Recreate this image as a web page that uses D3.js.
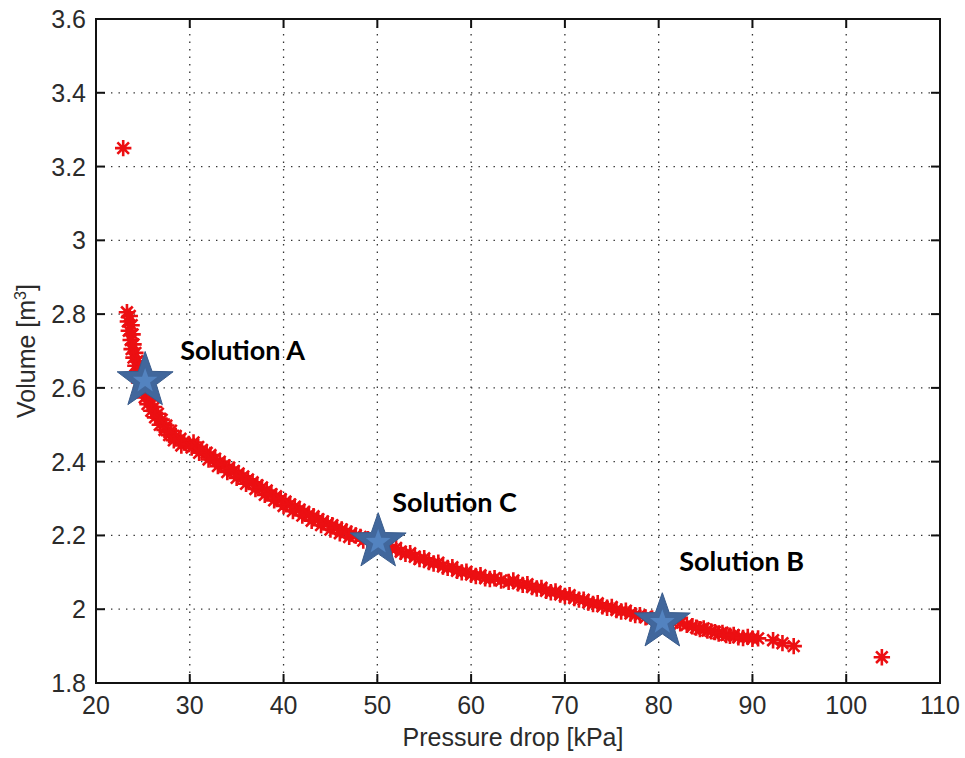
<!DOCTYPE html>
<html>
<head>
<meta charset="utf-8">
<script src="https://cdn.jsdelivr.net/npm/d3@7"></script>
<style>
  html, body { margin: 0; padding: 0; background: #fff; }
  svg { display: block; }
</style>
</head>
<body>
<svg id="chart" width="965" height="758"></svg>
<script>
// Axis ticks
const xTicks = [20, 30, 40, 50, 60, 70, 80, 90, 100, 110];
const yTicks = [1.8, 2.0, 2.2, 2.4, 2.6, 2.8, 3.0, 3.2, 3.4, 3.6];

// Pareto front: [pressure drop (kPa), volume (m3)]
const paretoFront = [
  [23.3,2.805],[23.6,2.795],[23.4,2.780],[23.8,2.770],[23.5,2.755],[23.9,2.745],[23.7,2.730],
  [24.0,2.718],[23.8,2.705],[24.2,2.695],[24.0,2.682],[24.4,2.672],[24.2,2.660],[24.6,2.650],
  [24.4,2.638],[24.8,2.628],[24.6,2.615],[25.1,2.605],[24.9,2.594],[25.4,2.586],[25.2,2.574],
  [25.8,2.566],[25.5,2.556],[26.2,2.548],[25.9,2.538],[26.6,2.530],[26.3,2.520],[27.0,2.514],
  [26.8,2.500],[27.5,2.498],[27.3,2.486],[28.0,2.484],[27.8,2.472],[28.5,2.470],[28.3,2.458],
  [29.0,2.462],[29.4,2.452],[29.1,2.444],[29.9,2.448],[30.4,2.452],[30.2,2.438],[30.9,2.440],
  [31.3,2.432],[31.0,2.424],[31.8,2.424],[32.2,2.418],[32.0,2.406],[32.7,2.408],[33.2,2.400],
  [33.0,2.388],[33.7,2.390],[34.2,2.384],[34.0,2.372],[34.7,2.375],[35.2,2.368],[35.0,2.356],
  [35.7,2.360],[36.2,2.352],[36.0,2.340],[36.7,2.344],[37.2,2.336],[37.0,2.326],[37.7,2.330],
  [38.2,2.322],[38.0,2.310],[38.7,2.312],[39.2,2.306],[39.0,2.295],[39.7,2.298],[40.2,2.292],
  [40.0,2.280],[40.7,2.284],[41.2,2.278],[41.0,2.266],[41.7,2.270],[42.2,2.264],[42.0,2.254],
  [42.7,2.256],[43.2,2.252],[43.0,2.240],[43.7,2.244],[44.2,2.238],[44.0,2.228],[44.7,2.232],
  [45.2,2.228],[45.0,2.216],[45.7,2.220],[46.2,2.216],[46.0,2.206],[46.7,2.210],[47.2,2.205],
  [47.0,2.196],[47.7,2.200],[48.2,2.196],[48.5,2.186],[49.0,2.190],[49.5,2.182],[50.0,2.176],
  [50.5,2.178],[51.0,2.168],[51.5,2.164],[52.0,2.166],[52.5,2.156],[53.0,2.150],[53.5,2.152],
  [54.0,2.142],[54.5,2.136],[55.0,2.138],[55.5,2.128],[56.0,2.124],[56.5,2.126],[57.0,2.116],
  [57.5,2.112],[58.0,2.114],[58.5,2.104],[59.0,2.100],[59.5,2.102],[60.0,2.094],[60.5,2.090],
  [61.0,2.092],[61.5,2.084],[62.0,2.082],[62.5,2.084],[63.2,2.078],[64.0,2.074],[64.5,2.078],
  [65.0,2.070],[65.5,2.066],[66.0,2.068],[66.5,2.060],[67.0,2.056],[67.5,2.058],[68.0,2.050],
  [68.5,2.046],[69.0,2.048],[69.5,2.040],[70.0,2.036],[70.5,2.038],[71.0,2.030],[71.5,2.026],
  [72.0,2.026],[72.5,2.018],[73.0,2.014],[73.5,2.016],[74.0,2.008],[74.5,2.004],[75.0,2.006],
  [75.5,1.998],[76.0,1.994],[76.5,1.996],[77.0,1.988],[77.5,1.984],[78.0,1.984],[78.6,1.978],
  [79.3,1.975],[80.0,1.970],[80.8,1.968],[81.5,1.964],[82.3,1.962],[83.0,1.958],[83.6,1.954],
  [84.0,1.950],[84.4,1.946],[84.8,1.948],[85.2,1.942],[85.6,1.940],[86.0,1.938],[86.4,1.934],
  [86.8,1.936],[87.2,1.930],[87.6,1.928],[88.0,1.930],[88.5,1.924],[89.0,1.922],[89.5,1.925],
  [90.0,1.920],[90.6,1.921],[92.2,1.916],[93.2,1.908],[94.4,1.900],
  [22.9,3.250],[103.8,1.870]
];

// Highlighted solutions
const solutionNames    = ["Solution A", "Solution C", "Solution B"];
const solutionPressure = [25.24, 50.09, 80.39];
const solutionVolume   = [2.619, 2.182, 1.965];

// Label placement relative to each star (pixels)
const labelOffsets = [[35, -31], [14, -40], [17, -61]];

const svg = d3.select("#chart");
const margin = { left: 96, right: 940, top: 19, bottom: 683 };

const x = d3.scaleLinear().domain([20, 110]).range([margin.left, margin.right]);
const y = d3.scaleLinear().domain([1.8, 3.6]).range([margin.bottom, margin.top]);

const axisFont = "'Liberation Sans', Arial, sans-serif";
const textColor = "#2b2b2b";

// Dotted grid
const grid = svg.append("g").attr("stroke", "#333").attr("stroke-width", 1.3)
  .attr("stroke-dasharray", "1.4 6.1").attr("fill", "none");
grid.selectAll("line.gx").data(xTicks.slice(1, -1)).join("line")
  .attr("x1", d => x(d)).attr("x2", d => x(d))
  .attr("y1", margin.top).attr("y2", margin.bottom);
grid.selectAll("line.gy").data(yTicks.slice(1, -1)).join("line")
  .attr("class", "gy")
  .attr("x1", margin.left).attr("x2", margin.right)
  .attr("y1", d => y(d)).attr("y2", d => y(d));

// Asterisk marker
const r = 8.2, rd = 5.8;
const asterisk = `M${-r},0H${r}M0,${-r}V${r}M${-rd},${-rd}L${rd},${rd}M${-rd},${rd}L${rd},${-rd}`;
svg.append("g").selectAll("path").data(paretoFront).join("path")
  .attr("transform", d => `translate(${x(d[0])},${y(d[1])})`)
  .attr("d", asterisk)
  .attr("stroke", "#ec0f12").attr("stroke-width", 2.6).attr("fill", "none");

// Box and inward ticks
const axes = svg.append("g").attr("stroke", "#111");
axes.append("rect")
  .attr("x", margin.left).attr("y", margin.top)
  .attr("width", margin.right - margin.left).attr("height", margin.bottom - margin.top)
  .attr("fill", "none").attr("stroke-width", 2);
const tk = 9;
xTicks.forEach(v => {
  axes.append("line").attr("x1", x(v)).attr("x2", x(v)).attr("y1", margin.bottom).attr("y2", margin.bottom - tk).attr("stroke-width", 2);
  axes.append("line").attr("x1", x(v)).attr("x2", x(v)).attr("y1", margin.top).attr("y2", margin.top + tk).attr("stroke-width", 2);
});
yTicks.forEach(v => {
  axes.append("line").attr("x1", margin.left).attr("x2", margin.left + tk).attr("y1", y(v)).attr("y2", y(v)).attr("stroke-width", 2);
  axes.append("line").attr("x1", margin.right).attr("x2", margin.right - tk).attr("y1", y(v)).attr("y2", y(v)).attr("stroke-width", 2);
});

// Tick labels
svg.append("g").selectAll("text").data(xTicks).join("text")
  .attr("x", d => x(d)).attr("y", margin.bottom + 31)
  .attr("text-anchor", "middle")
  .attr("font-family", axisFont).attr("font-size", 25).attr("fill", textColor)
  .text(d => d);
svg.append("g").selectAll("text").data(yTicks).join("text")
  .attr("x", margin.left - 10).attr("y", d => y(d) + 9)
  .attr("text-anchor", "end")
  .attr("font-family", axisFont).attr("font-size", 25).attr("fill", textColor)
  .text(d => d3.format("~g")(d));

// Axis titles
svg.append("text")
  .attr("x", (margin.left + margin.right) / 2 - 5).attr("y", 746)
  .attr("text-anchor", "middle")
  .attr("font-family", axisFont).attr("font-size", 25).attr("fill", textColor)
  .text("Pressure drop [kPa]");
const yTitle = svg.append("text")
  .attr("transform", `translate(35,${(margin.top + margin.bottom) / 2}) rotate(-90)`)
  .attr("text-anchor", "middle")
  .attr("font-family", axisFont).attr("font-size", 25).attr("fill", textColor);
yTitle.append("tspan").text("Volume [m");
yTitle.append("tspan").attr("font-size", 16).attr("dy", -9).text("3");
yTitle.append("tspan").attr("dy", 9).text("]");

// Five-point star
function starPath(R, ratio) {
  const pts = [];
  for (let i = 0; i < 10; i++) {
    const rad = i % 2 === 0 ? R : R * ratio;
    const a = -Math.PI / 2 + i * Math.PI / 5;
    pts.push([rad * Math.cos(a), rad * Math.sin(a)]);
  }
  return "M" + pts.map(p => p[0].toFixed(2) + "," + p[1].toFixed(2)).join("L") + "Z";
}

const stars = svg.append("g").selectAll("g").data(solutionNames).join("g")
  .attr("transform", (d, i) => `translate(${x(solutionPressure[i])},${y(solutionVolume[i])})`);
stars.append("path").attr("d", starPath(29.4, 0.4))
  .attr("fill", "#41679c").attr("stroke", "#3a5c8c").attr("stroke-width", 1);
stars.append("path").attr("d", starPath(13, 0.4))
  .attr("fill", "#5383c0");

stars.append("text")
  .attr("x", (d, i) => labelOffsets[i][0]).attr("y", (d, i) => labelOffsets[i][1] + 10)
  .attr("font-family", "Lato, 'Open Sans', sans-serif").attr("font-weight", "bold")
  .attr("font-size", 27).attr("fill", "#000")
  .text(d => d);
</script>
</body>
</html>
